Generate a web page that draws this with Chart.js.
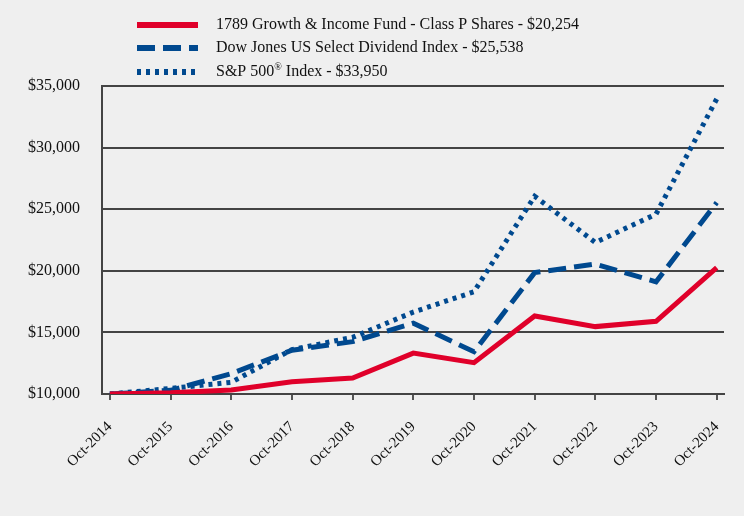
<!DOCTYPE html>
<html>
<head>
<meta charset="utf-8">
<script src="https://cdn.jsdelivr.net/npm/chart.js@4/dist/chart.umd.min.js"></script>
<style>
html,body{margin:0;padding:0;background:#efefef;}
#wrap{width:744px;height:516px;position:relative;}
</style>
</head>
<body>
<div id="wrap"><canvas id="c" width="744" height="516"></canvas></div>
<script>
const categories = ["Oct-2014","Oct-2015","Oct-2016","Oct-2017","Oct-2018","Oct-2019","Oct-2020","Oct-2021","Oct-2022","Oct-2023","Oct-2024"];
const fundValues = [10000,10100,10320,10990,11300,13320,12540,16330,15470,15900,20254];
const dowValues  = [10000,10300,11650,13550,14250,15750,13430,19850,20550,19100,25538];
const spValues   = [10000,10450,10950,13600,14600,16650,18300,26050,22300,24600,33950];
const yTicks = [10000,15000,20000,25000,30000,35000];
const seriesLabels = [
  "1789 Growth & Income Fund - Class P Shares - $20,254",
  "Dow Jones US Select Dividend Index - $25,538",
  "S&P 500\u00AE Index - $33,950"
];

const RED = "#e0002a";
const BLUE = "#00498f";
const FONT = "'Liberation Serif', 'Times New Roman', serif";

function toXY(arr){ return arr.map((v,i)=>({x:i,y:v})); }

const bgPlugin = {
  id:'bg',
  beforeDraw(chart){
    const ctx = chart.ctx;
    ctx.save();
    ctx.fillStyle = '#efefef';
    ctx.fillRect(0,0,chart.width,chart.height);
    ctx.restore();
  }
};

const legendPlugin = {
  id:'customLegend',
  afterDraw(chart){
    const ctx = chart.ctx;
    const rows = [25,48,72];
    ctx.save();
    chart.data.datasets.forEach((ds,i)=>{
      const y = rows[i];
      ctx.strokeStyle = ds.borderColor;
      ctx.lineWidth = ds.borderWidth + 1;
      ctx.lineCap = 'butt';
      ctx.setLineDash(ds.borderDash || []);
      ctx.beginPath();
      ctx.moveTo(137,y);
      ctx.lineTo(198,y);
      ctx.stroke();
      ctx.setLineDash([]);
      ctx.fillStyle = '#111';
      ctx.textBaseline = 'middle';
      ctx.textAlign = 'left';
      ctx.font = "16px " + FONT;
      const label = ds.label;
      const idx = label.indexOf('\u00AE');
      if (idx >= 0) {
        const a = label.slice(0,idx), b = label.slice(idx+1);
        let x = 216;
        ctx.fillText(a, x, y);
        x += ctx.measureText(a).width;
        ctx.font = "10px " + FONT;
        ctx.fillText('\u00AE', x, y-5);
        x += ctx.measureText('\u00AE').width;
        ctx.font = "16px " + FONT;
        ctx.fillText(b, x, y);
      } else {
        ctx.fillText(label, 216, y);
      }
    });
    ctx.restore();
  }
};

new Chart(document.getElementById('c'), {
  type:'line',
  data:{
    datasets:[
      {label:seriesLabels[0], data:toXY(fundValues), borderColor:RED, borderWidth:5, pointRadius:0, fill:false, tension:0, order:1},
      {label:seriesLabels[1], data:toXY(dowValues), borderColor:BLUE, borderWidth:5, borderDash:[18,8], pointRadius:0, fill:false, tension:0, order:2},
      {label:seriesLabels[2], data:toXY(spValues), borderColor:BLUE, borderWidth:5, borderDash:[4,5], pointRadius:0, fill:false, tension:0, order:3}
    ]
  },
  options:{
    responsive:false,
    animation:false,
    layout:{padding:{left:0, top:86, right:20, bottom:0}},
    plugins:{legend:{display:false}, tooltip:{enabled:false}},
    scales:{
      x:{
        type:'linear',
        min:-0.13, max:10.12,
        afterBuildTicks(scale){ scale.ticks = categories.map((c,i)=>({value:i})); },
        afterFit(scale){ scale.height = 122; scale.paddingLeft = 0; scale.paddingRight = 0; },
        ticks:{
          callback:(v)=>categories[v],
          autoSkip:false,
          minRotation:45, maxRotation:45,
          padding:18,
          color:'#111',
          font:{family:FONT, size:15}
        },
        grid:{drawOnChartArea:false, drawTicks:true, tickLength:6, color:'#555', lineWidth:2},
        border:{display:true, color:'#444', width:2}
      },
      y:{
        min:10000, max:35000,
        afterBuildTicks(scale){ scale.ticks = yTicks.map(v=>({value:v})); },
        afterFit(scale){ scale.width = 102; scale.paddingTop = 0; scale.paddingBottom = 0; },
        ticks:{
          callback:(v)=>'$' + v.toLocaleString('en-US'),
          padding:22,
          color:'#111',
          font:{family:FONT, size:16}
        },
        grid:{drawTicks:false, color:'#444', lineWidth:2},
        border:{display:true, color:'#444', width:2}
      }
    }
  },
  plugins:[bgPlugin, legendPlugin]
});
</script>
</body>
</html>
